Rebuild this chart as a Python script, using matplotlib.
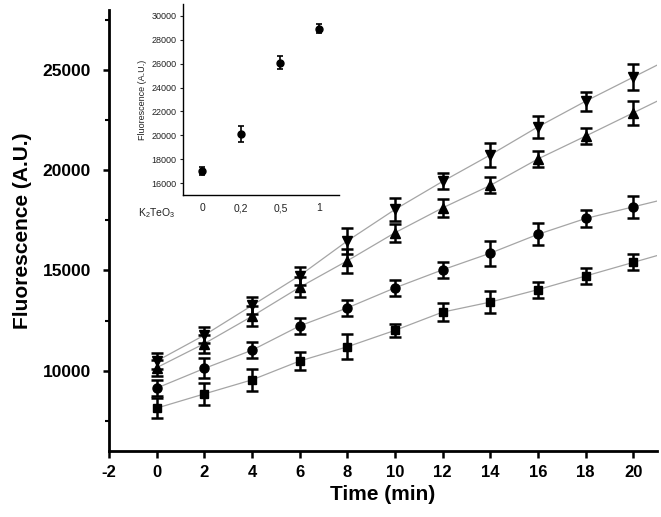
"""Fluorescence vs time for four K2TeO3 levels, with dose-response inset."""

import matplotlib

matplotlib.use("Agg")
import matplotlib.pyplot as plt
import numpy as np
from matplotlib.ticker import MultipleLocator

plt.rcParams["font.family"] = ["Liberation Sans", "DejaVu Sans"]
plt.rcParams["mathtext.default"] = "regular"
plt.rcParams["axes.unicode_minus"] = False

time_min = [0, 2, 4, 6, 8, 10, 12, 14, 16, 18, 20]

sq_val = [8130, 8840, 9540, 10480, 11190, 12010, 12920, 13420, 14040, 14720, 15400]
sq_err = [500, 560, 560, 450, 620, 330, 430, 560, 400, 400, 400]

ci_val = [9130, 10110, 11020, 12230, 13130, 14130, 15030, 15860, 16800, 17590, 18170]
ci_err = [400, 500, 390, 410, 410, 390, 410, 620, 550, 410, 550]

up_val = [10150, 11350, 12710, 14160, 15480, 16880, 18120, 19240, 20560, 21700, 22860]
up_err = [400, 450, 500, 500, 600, 450, 450, 400, 390, 410, 600]

dn_val = [10480, 11770, 13250, 14740, 16470, 18040, 19440, 20760, 22160, 23440, 24640]
dn_err = [380, 400, 400, 450, 650, 550, 400, 600, 530, 480, 640]

inset_labels = ["0", "0,2", "0,5", "1"]
inset_val = [17000, 20120, 26080, 28920]
inset_err = [350, 650, 560, 380]

fig = plt.figure(figsize=(6.61, 5.17), dpi=100)
ax = fig.add_axes([0.165, 0.128, 0.829, 0.853])

series = [
    (sq_val, sq_err, "s", 5.5),
    (ci_val, ci_err, "o", 6.5),
    (up_val, up_err, "^", 7.0),
    (dn_val, dn_err, "v", 7.0),
]

x_end = 21
for vals, errs, marker, ms in series:
    t = np.array(time_min, dtype=float)
    y = np.array(vals, dtype=float)
    # grey guide line continues past the last point to the axis edge
    slope = (y[-1] - y[-2]) / (t[-1] - t[-2])
    tx = np.append(t, x_end)
    yx = np.append(y, y[-1] + slope * (x_end - t[-1]))
    ax.plot(tx, yx, color="#a5a5a5", lw=0.9, zorder=1)
    ax.errorbar(t, y, yerr=errs, fmt=marker, color="black", ms=ms,
                elinewidth=1.8, capsize=4.5, capthick=1.8, zorder=3)

ax.set_xlim(-2, x_end)
ax.set_ylim(6000, 28000)
ax.xaxis.set_major_locator(MultipleLocator(2))
ax.yaxis.set_major_locator(MultipleLocator(5000))
ax.yaxis.set_minor_locator(MultipleLocator(2500))

for side in ("top", "right"):
    ax.spines[side].set_visible(False)
for side in ("left", "bottom"):
    ax.spines[side].set_linewidth(2.0)

ax.tick_params(axis="x", which="major", direction="out", length=5, width=1.8,
               pad=5, labelsize=12)
ax.tick_params(axis="y", which="major", direction="out", length=4, width=1.8,
               pad=9, labelsize=12.5)
ax.tick_params(axis="y", which="minor", direction="out", length=3, width=1.5)
for lab in ax.get_xticklabels() + ax.get_yticklabels():
    lab.set_fontweight("bold")

ax.set_xlabel("Time (min)", fontsize=15, fontweight="bold", labelpad=4)
ax.set_ylabel("Fluorescence (A.U.)", fontsize=15, fontweight="bold", labelpad=8)

# inset: fluorescence vs K2TeO3
ax_in = fig.add_axes([0.2764, 0.6228, 0.2365, 0.3694])
pos = np.arange(len(inset_labels))
ax_in.errorbar(pos, inset_val, yerr=inset_err, fmt="o", color="black", ms=5,
               elinewidth=1.2, capsize=2.5, capthick=1.2)
ax_in.set_xlim(-0.5, 3.5)
ax_in.set_ylim(15000, 31000)
ax_in.set_xticks(pos)
ax_in.set_xticklabels(inset_labels)
ax_in.yaxis.set_major_locator(MultipleLocator(2000))
for side in ("top", "right"):
    ax_in.spines[side].set_visible(False)
for side in ("left", "bottom"):
    ax_in.spines[side].set_linewidth(1.0)
ax_in.tick_params(axis="y", direction="out", length=2.5, width=0.8, pad=2,
                  labelsize=6.5, colors="#222222")
ax_in.tick_params(axis="x", direction="out", length=0, pad=6, labelsize=7.5,
                  colors="#222222")
ax_in.set_ylabel("Fluorescence (A.U.)", fontsize=6.5, color="#222222", labelpad=3)
ax_in.text(-0.165, -0.06, "K$_2$TeO$_3$", transform=ax_in.transAxes,
           ha="center", va="top", fontsize=7.5, color="#222222")

fig.savefig("out.png", dpi=100)
